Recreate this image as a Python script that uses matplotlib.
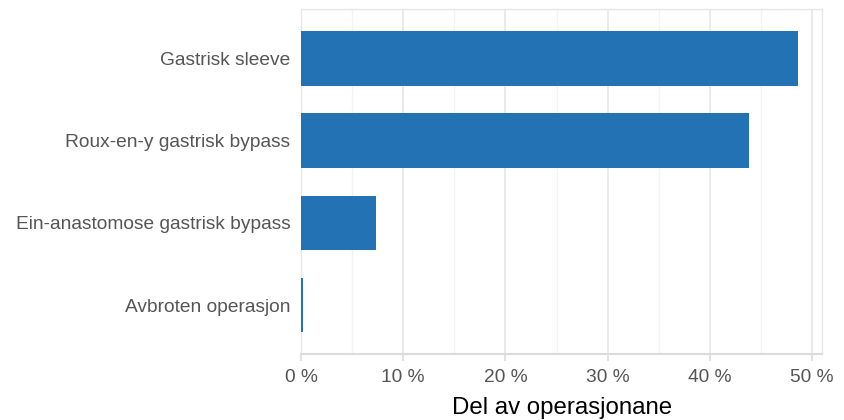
import numpy as np
import matplotlib.pyplot as plt
from matplotlib.ticker import MultipleLocator, FuncFormatter

plt.rcParams['font.family'] = ['Liberation Sans', 'DejaVu Sans']

# data (share of operations, %)
operasjonar = ["Gastrisk sleeve", "Roux-en-y gastrisk bypass",
               "Ein-anastomose gastrisk bypass", "Avbroten operasjon"]
del_prosent = [48.6, 43.8, 7.35, 0.15]

fig = plt.figure(figsize=(8.44, 4.2), dpi=100)
ax = fig.add_axes([0.3566, 0.1564, 0.6177, 0.8214])

ypos = np.arange(len(operasjonar))
ax.barh(ypos, del_prosent, height=0.665, color="#2372b4", zorder=3)

ax.set_xlim(0, 51)
ax.set_ylim(len(operasjonar) - 0.4, -0.6)
ax.set_yticks(ypos)
ax.set_yticklabels(operasjonar)

ax.xaxis.set_major_locator(MultipleLocator(10))
ax.xaxis.set_minor_locator(MultipleLocator(5))
ax.xaxis.set_major_formatter(FuncFormatter(lambda v, p: "%d %%" % v))
ax.grid(axis="x", which="major", color="#e6e6e6", linewidth=1.2, zorder=0)
ax.grid(axis="x", which="minor", color="#f3f3f3", linewidth=1.0, zorder=0)

for side in ["top", "right", "left"]:
    ax.spines[side].set_color("#e6e6e6")
    ax.spines[side].set_linewidth(1.0)
ax.spines["bottom"].set_color("#dcdcdc")
ax.spines["bottom"].set_linewidth(1.5)

ax.tick_params(axis="y", length=0, pad=7.5, labelsize=13.8, labelcolor="#555555")
ax.tick_params(axis="x", which="major", length=5, width=1.2, color="#dcdcdc",
               labelsize=13.8, labelcolor="#555555", pad=5.5)
ax.tick_params(axis="x", which="minor", length=0)

ax.set_xlabel("Del av operasjonane", fontsize=17.3, color="black", labelpad=8)

fig.savefig("out.png", dpi=100)
